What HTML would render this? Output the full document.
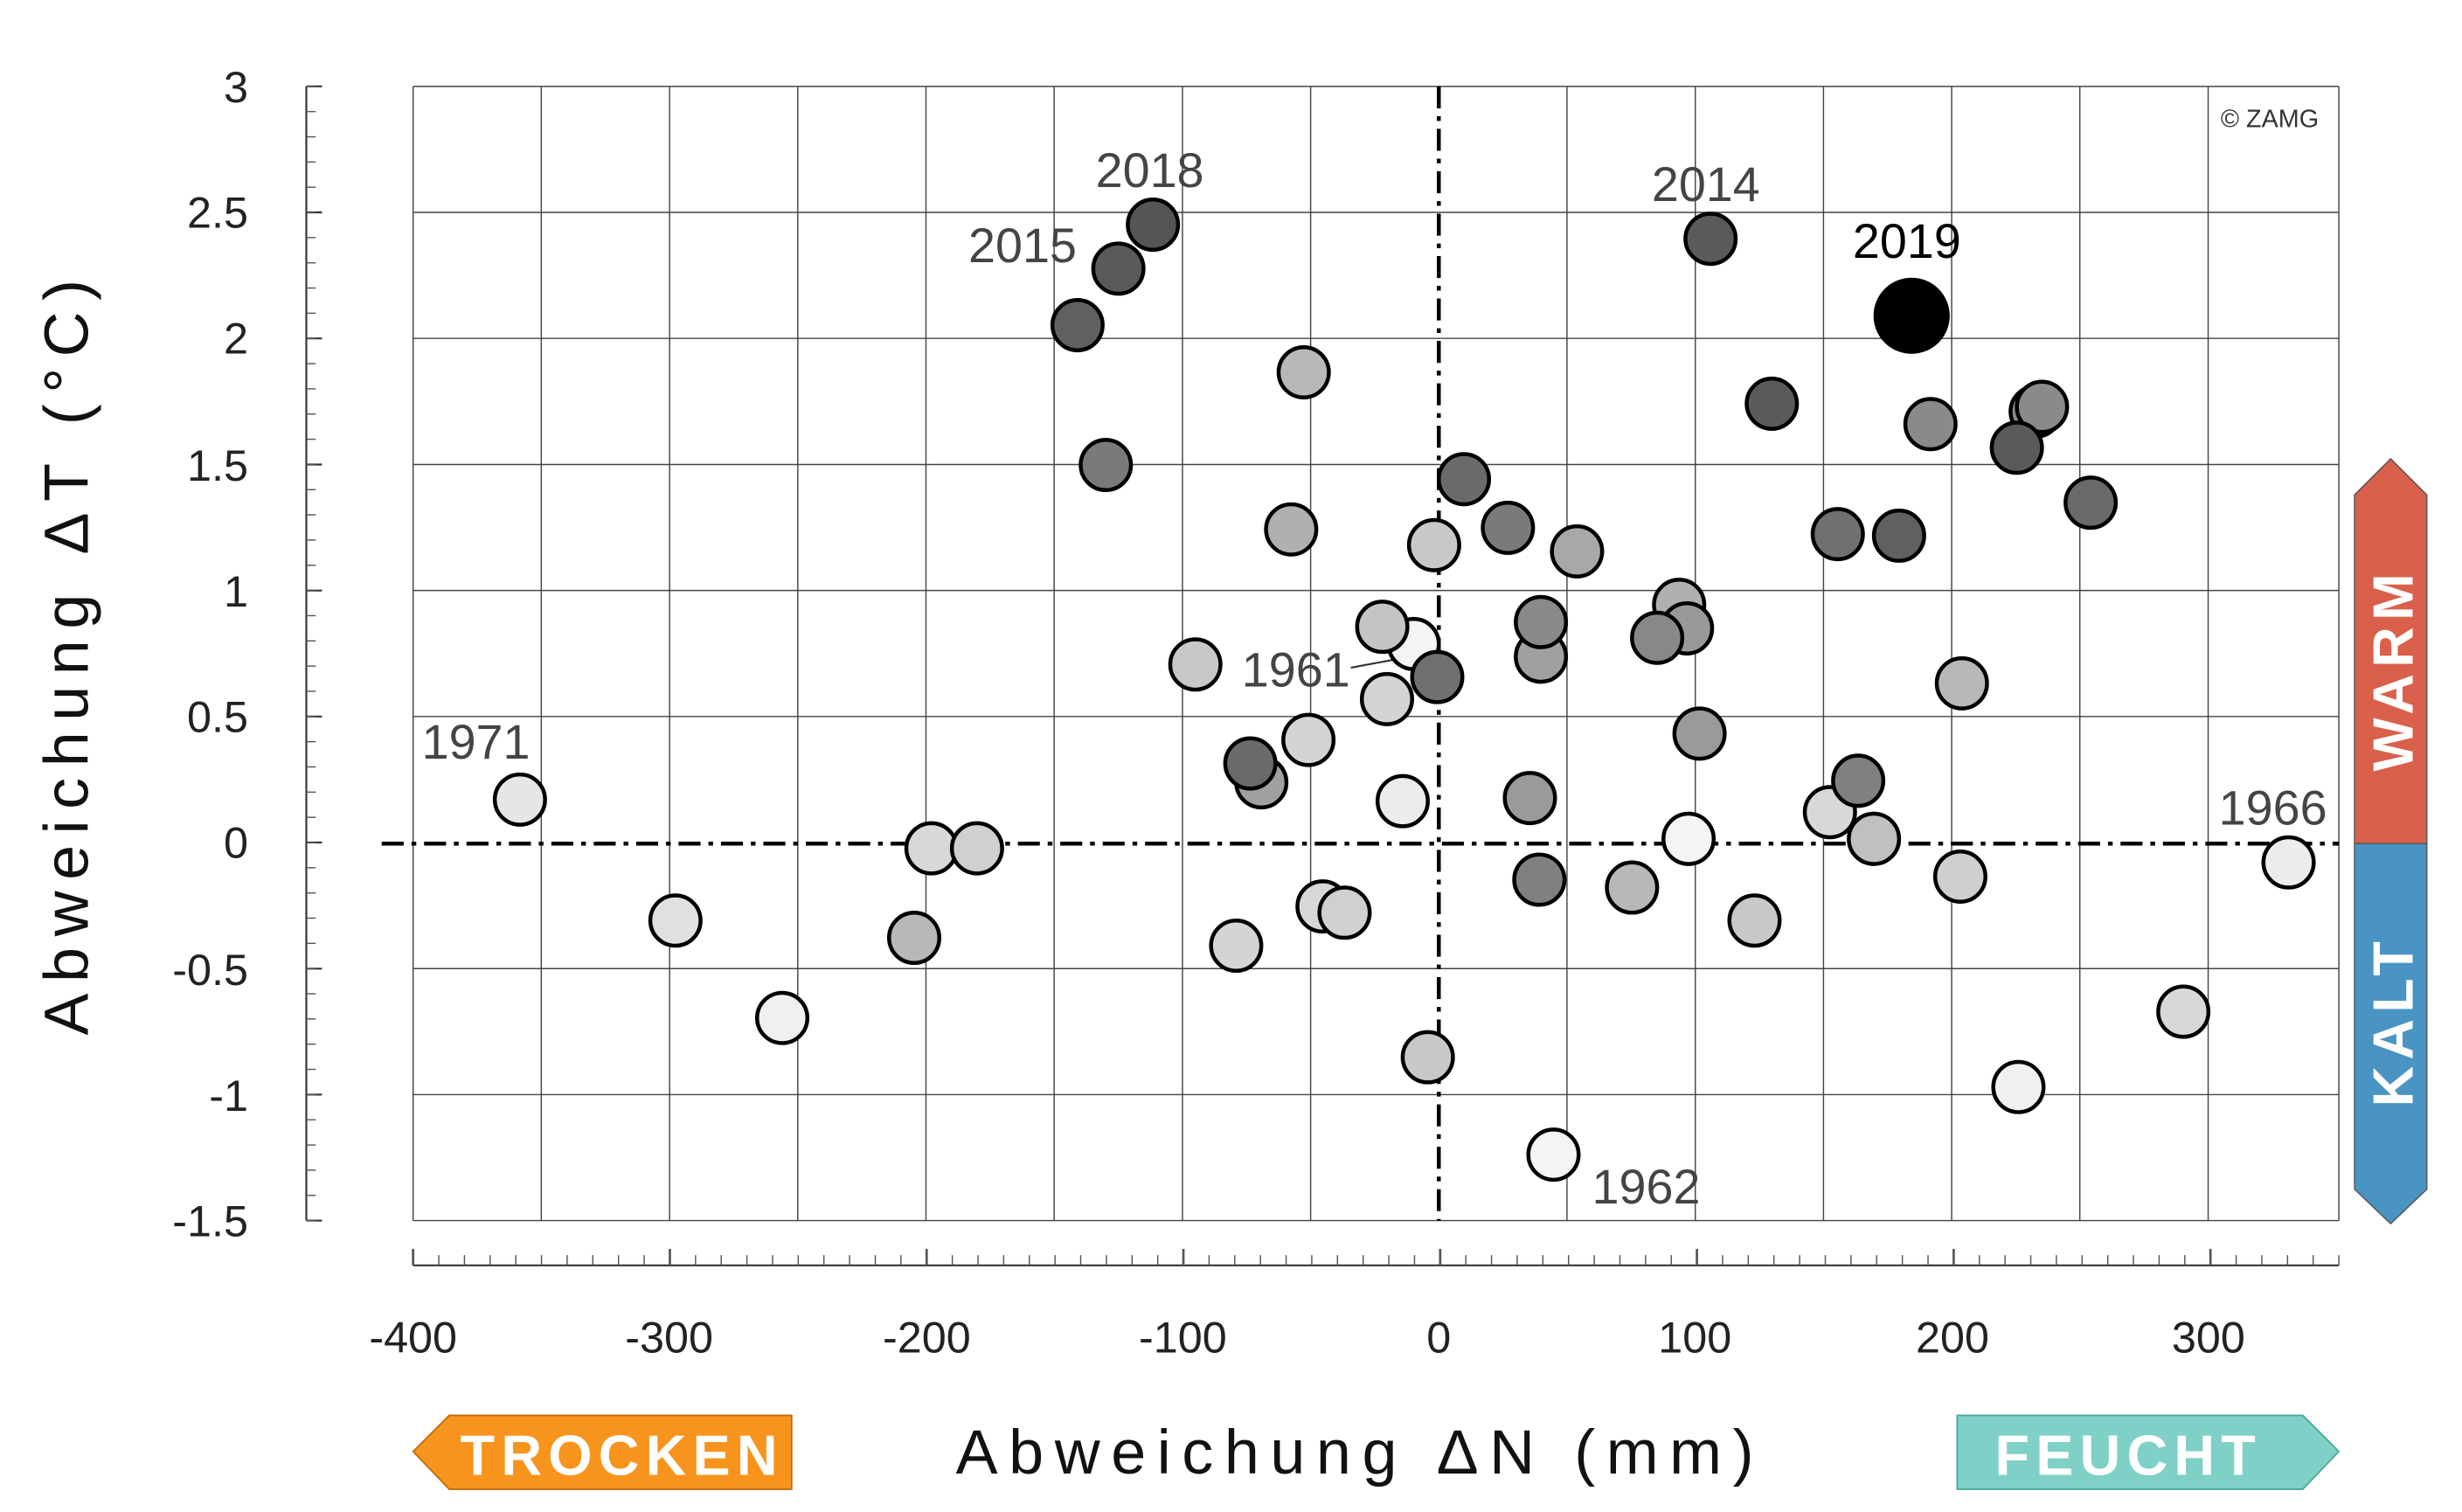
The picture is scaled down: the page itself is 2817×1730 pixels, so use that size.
<!DOCTYPE html>
<html><head><meta charset="utf-8"><style>html,body{margin:0;padding:0;background:#fff}svg{display:block}</style></head>
<body>
<svg width="2817" height="1730" viewBox="0 0 1567.4 962.5" preserveAspectRatio="none" xmlns="http://www.w3.org/2000/svg" font-family="Liberation Sans, sans-serif">
<rect width="1567.4" height="962.5" fill="#fff"/>
<g stroke="#444" stroke-width="0.8">
<line x1="263" y1="55" x2="1489" y2="55"/>
<line x1="263" y1="135.2" x2="1489" y2="135.2"/>
<line x1="263" y1="215.4" x2="1489" y2="215.4"/>
<line x1="263" y1="295.7" x2="1489" y2="295.7"/>
<line x1="263" y1="375.9" x2="1489" y2="375.9"/>
<line x1="263" y1="456.1" x2="1489" y2="456.1"/>
<line x1="263" y1="616.6" x2="1489" y2="616.6"/>
<line x1="263" y1="696.8" x2="1489" y2="696.8"/>
<line x1="263" y1="777" x2="1489" y2="777"/>
<line x1="263" y1="55" x2="263" y2="777"/><line x1="344.6" y1="55" x2="344.6" y2="777"/><line x1="426.3" y1="55" x2="426.3" y2="777"/><line x1="507.9" y1="55" x2="507.9" y2="777"/><line x1="589.5" y1="55" x2="589.5" y2="777"/><line x1="671.1" y1="55" x2="671.1" y2="777"/><line x1="752.8" y1="55" x2="752.8" y2="777"/><line x1="834.4" y1="55" x2="834.4" y2="777"/><line x1="997.6" y1="55" x2="997.6" y2="777"/><line x1="1079.3" y1="55" x2="1079.3" y2="777"/><line x1="1160.9" y1="55" x2="1160.9" y2="777"/><line x1="1242.5" y1="55" x2="1242.5" y2="777"/><line x1="1324.1" y1="55" x2="1324.1" y2="777"/><line x1="1405.8" y1="55" x2="1405.8" y2="777"/><line x1="1489" y1="55" x2="1489" y2="777"/>
</g>
<g stroke="#333" stroke-width="1.2">
<line x1="195" y1="55" x2="195" y2="777"/>
<line x1="195" y1="55" x2="205" y2="55"/><line x1="195" y1="135.2" x2="205" y2="135.2"/><line x1="195" y1="215.4" x2="205" y2="215.4"/><line x1="195" y1="295.7" x2="205" y2="295.7"/><line x1="195" y1="375.9" x2="205" y2="375.9"/><line x1="195" y1="456.1" x2="205" y2="456.1"/><line x1="195" y1="536.3" x2="205" y2="536.3"/><line x1="195" y1="616.6" x2="205" y2="616.6"/><line x1="195" y1="696.8" x2="205" y2="696.8"/><line x1="195" y1="777" x2="205" y2="777"/>
<line x1="263" y1="805.5" x2="1489" y2="805.5"/>
</g>
<g id="yminor" stroke="#555" stroke-width="0.8"></g>
<g id="xminor" stroke="#555" stroke-width="0.8"></g>
<g font-size="28" fill="#222" text-anchor="end">
<text x="158" y="65">3</text><text x="158" y="145">2.5</text><text x="158" y="225">2</text><text x="158" y="306">1.5</text><text x="158" y="386">1</text><text x="158" y="466">0.5</text><text x="158" y="546">0</text><text x="158" y="627">-0.5</text><text x="158" y="707">-1</text><text x="158" y="787">-1.5</text>
</g>
<g font-size="28" fill="#222" text-anchor="middle">
<text x="263" y="861">-400</text><text x="426" y="861">-300</text><text x="590" y="861">-200</text><text x="753" y="861">-100</text><text x="916" y="861">0</text><text x="1079" y="861">100</text><text x="1243" y="861">200</text><text x="1406" y="861">300</text>
</g>
<text x="1445" y="81" font-size="16" fill="#333" text-anchor="middle">© ZAMG</text>
<g stroke="#000" stroke-width="2.5" stroke-dasharray="14,5,3,5">
<line x1="243" y1="537" x2="1489" y2="537"/>
<line x1="916" y1="55" x2="916" y2="777"/>
</g>
<line x1="860" y1="425" x2="898" y2="418" stroke="#333" stroke-width="1.2"/>
<g stroke="#000" stroke-width="2.5">
<circle cx="331" cy="509" r="16" fill="#e6e6e6"/>
<circle cx="430" cy="586" r="16" fill="#e0e0e0"/>
<circle cx="498" cy="648" r="16" fill="#f0f0f0"/>
<circle cx="582" cy="597" r="16" fill="#b8b8b8"/>
<circle cx="593" cy="540" r="16" fill="#d8d8d8"/>
<circle cx="622" cy="540" r="16" fill="#d0d0d0"/>
<circle cx="686" cy="207" r="16" fill="#606060"/>
<circle cx="704" cy="296" r="16" fill="#7a7a7a"/>
<circle cx="712" cy="171" r="16" fill="#5a5a5a"/>
<circle cx="734" cy="143" r="16" fill="#555"/>
<circle cx="761" cy="423" r="16" fill="#c8c8c8"/>
<circle cx="787" cy="602" r="16" fill="#d4d4d4"/>
<circle cx="803" cy="498" r="16" fill="#a0a0a0"/>
<circle cx="796" cy="486" r="16" fill="#6a6a6a"/>
<circle cx="822" cy="337" r="16" fill="#b0b0b0"/>
<circle cx="830" cy="237" r="16" fill="#b8b8b8"/>
<circle cx="833" cy="471" r="16" fill="#d4d4d4"/>
<circle cx="842" cy="577" r="16" fill="#d8d8d8"/>
<circle cx="856" cy="581" r="16" fill="#d0d0d0"/>
<circle cx="900" cy="410" r="16" fill="#f4f4f4"/>
<circle cx="880" cy="399" r="16" fill="#c4c4c4"/>
<circle cx="883" cy="445" r="16" fill="#d4d4d4"/>
<circle cx="893" cy="510" r="16" fill="#ececec"/>
<circle cx="909" cy="673" r="16" fill="#c8c8c8"/>
<circle cx="913" cy="347" r="16" fill="#c8c8c8"/>
<circle cx="915" cy="431" r="16" fill="#707070"/>
<circle cx="932" cy="305" r="16" fill="#6a6a6a"/>
<circle cx="960" cy="336" r="16" fill="#7a7a7a"/>
<circle cx="974" cy="508" r="16" fill="#9a9a9a"/>
<circle cx="980" cy="560" r="16" fill="#808080"/>
<circle cx="981" cy="418" r="16" fill="#a0a0a0"/>
<circle cx="981" cy="396" r="16" fill="#8a8a8a"/>
<circle cx="989" cy="735" r="16" fill="#f4f4f4"/>
<circle cx="1004" cy="351" r="16" fill="#a8a8a8"/>
<circle cx="1039" cy="565" r="16" fill="#b8b8b8"/>
<circle cx="1069" cy="385" r="16" fill="#b0b0b0"/>
<circle cx="1074" cy="400" r="16" fill="#999"/>
<circle cx="1055" cy="406" r="16" fill="#888"/>
<circle cx="1075" cy="534" r="16" fill="#f4f4f4"/>
<circle cx="1082" cy="467" r="16" fill="#9a9a9a"/>
<circle cx="1089" cy="152" r="16" fill="#5a5a5a"/>
<circle cx="1117" cy="586" r="16" fill="#c8c8c8"/>
<circle cx="1128" cy="257" r="16" fill="#5a5a5a"/>
<circle cx="1165" cy="517" r="16" fill="#d8d8d8"/>
<circle cx="1170" cy="340" r="16" fill="#707070"/>
<circle cx="1193" cy="534" r="16" fill="#c0c0c0"/>
<circle cx="1183" cy="497" r="16" fill="#808080"/>
<circle cx="1209" cy="341" r="16" fill="#606060"/>
<circle cx="1217" cy="201" r="23" fill="#000"/>
<circle cx="1229" cy="270" r="16" fill="#8a8a8a"/>
<circle cx="1248" cy="558" r="16" fill="#cfcfcf"/>
<circle cx="1249" cy="435" r="16" fill="#b8b8b8"/>
<circle cx="1296" cy="262" r="16" fill="#8a8a8a"/>
<circle cx="1300" cy="259" r="16" fill="#8a8a8a"/>
<circle cx="1284" cy="285" r="16" fill="#5a5a5a"/>
<circle cx="1285" cy="692" r="16" fill="#f0f0f0"/>
<circle cx="1331" cy="320" r="16" fill="#6a6a6a"/>
<circle cx="1390" cy="644" r="16" fill="#d8d8d8"/>
<circle cx="1457" cy="549" r="16" fill="#ececec"/>
</g>
<g font-size="31" fill="#444" text-anchor="middle">
<text x="732" y="119">2018</text><text x="651" y="167">2015</text><text x="1086" y="128">2014</text><text x="1214" y="164" fill="#000">2019</text>
<text x="825" y="437">1961</text><text x="303" y="483">1971</text><text x="1447" y="525">1966</text><text x="1048" y="766">1962</text>
</g>
<text transform="translate(56,415) rotate(-90)" font-size="40" fill="#111" text-anchor="middle" letter-spacing="7">Abweichung  ΔT (°C)</text>
<text x="866" y="938" font-size="40" fill="#111" text-anchor="middle" letter-spacing="7">Abweichung  ΔN (mm)</text>
<polygon points="263,924 286,901 504,901 504,948 286,948" fill="#f7941d" stroke="#c06a10" stroke-width="1"/>
<text x="396" y="939" font-size="36" font-weight="bold" fill="#fff" text-anchor="middle" letter-spacing="4">TROCKEN</text>
<polygon points="1246,901 1466,901 1489,924 1466,948 1246,948" fill="#7fd1c7" stroke="#4aa89c" stroke-width="1"/>
<text x="1355" y="939" font-size="36" font-weight="bold" fill="#fff" text-anchor="middle" letter-spacing="4">FEUCHT</text>
<polygon points="1499,315 1522,292 1545,315 1545,537 1499,537" fill="#d9604a" stroke="#555" stroke-width="0.8"/>
<polygon points="1499,537 1545,537 1545,757 1522,779 1499,757" fill="#4a94c4" stroke="#555" stroke-width="0.8"/>
<text transform="translate(1536,426) rotate(-90)" font-size="36" font-weight="bold" fill="#fff" text-anchor="middle" letter-spacing="4">WARM</text>
<text transform="translate(1536,650) rotate(-90)" font-size="36" font-weight="bold" fill="#fff" text-anchor="middle" letter-spacing="4">KALT</text>
<script>
(function(){var ns="http://www.w3.org/2000/svg";var g=document.getElementById("yminor");
for(var i=0;i<=45;i++){var y=55+i*722/45;var l=document.createElementNS(ns,"line");l.setAttribute("x1",195);l.setAttribute("x2",201);l.setAttribute("y1",y);l.setAttribute("y2",y);g.appendChild(l);}
var h=document.getElementById("xminor");
for(var j=0;j<=75;j++){var x=263+j*1226/75;var big=(j%10==0);var m=document.createElementNS(ns,"line");m.setAttribute("x1",x);m.setAttribute("x2",x);m.setAttribute("y1",805.5);m.setAttribute("y2",big?795:799);if(big)m.setAttribute("stroke-width","1.5");h.appendChild(m);}})();
</script>
</svg>
</body></html>
